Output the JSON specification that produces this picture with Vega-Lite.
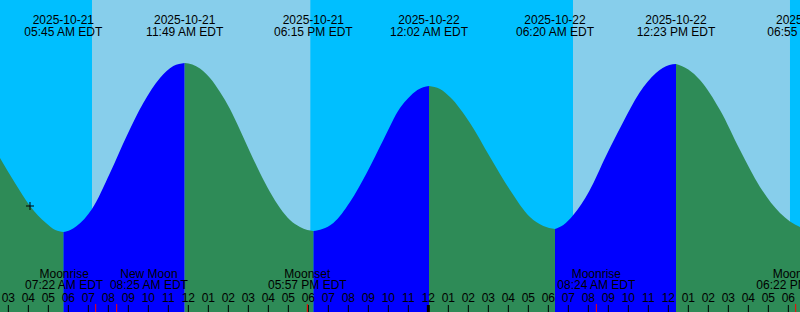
{
  "$schema": "https://vega.github.io/schema/vega-lite/v6.json",
  "width": 800,
  "height": 312,
  "autosize": {"type": "none"},
  "padding": 0,
  "background": "#00BFFF",
  "config": {"view": {"stroke": null}, "text": {"font": "Liberation Sans", "fontSize": 12, "color": "#000000", "baseline": "alphabetic"}},
  "datasets": {
    "sky": [
      {"s": 2.583, "e": 7.183, "kind": "night"},
      {"s": 7.183, "e": 18.1, "kind": "day"},
      {"s": 18.1, "e": 31.233, "kind": "night"},
      {"s": 31.233, "e": 42.083, "kind": "day"},
      {"s": 42.083, "e": 42.6, "kind": "night"}
    ],
    "tide": [
      {"h": 2.583, "v": 0.78, "seg": 1, "phase": "falling"},
      {"h": 3.333, "v": 0.53, "seg": 1, "phase": "falling"},
      {"h": 4.083, "v": 0.30, "seg": 1, "phase": "falling"},
      {"h": 4.883, "v": 0.13, "seg": 1, "phase": "falling"},
      {"h": 5.35, "v": 0.06, "seg": 1, "phase": "falling"},
      {"h": 5.75, "v": 0.04, "seg": 1, "phase": "falling"},
      {"h": 5.75, "v": 0.04, "seg": 2, "phase": "rising"},
      {"h": 6.1, "v": 0.06, "seg": 2, "phase": "rising"},
      {"h": 6.418, "v": 0.10, "seg": 2, "phase": "rising"},
      {"h": 7.183, "v": 0.27, "seg": 2, "phase": "rising"},
      {"h": 8.083, "v": 0.63, "seg": 2, "phase": "rising"},
      {"h": 8.918, "v": 1.00, "seg": 2, "phase": "rising"},
      {"h": 9.748, "v": 1.33, "seg": 2, "phase": "rising"},
      {"h": 10.583, "v": 1.58, "seg": 2, "phase": "rising"},
      {"h": 11.248, "v": 1.70, "seg": 2, "phase": "rising"},
      {"h": 11.817, "v": 1.73, "seg": 2, "phase": "rising"},
      {"h": 11.817, "v": 1.73, "seg": 3, "phase": "falling"},
      {"h": 12.2, "v": 1.715, "seg": 3, "phase": "falling"},
      {"h": 12.583, "v": 1.675, "seg": 3, "phase": "falling"},
      {"h": 13.083, "v": 1.58, "seg": 3, "phase": "falling"},
      {"h": 13.583, "v": 1.44, "seg": 3, "phase": "falling"},
      {"h": 14.083, "v": 1.27, "seg": 3, "phase": "falling"},
      {"h": 14.583, "v": 1.06, "seg": 3, "phase": "falling"},
      {"h": 15.083, "v": 0.84, "seg": 3, "phase": "falling"},
      {"h": 15.583, "v": 0.63, "seg": 3, "phase": "falling"},
      {"h": 16.083, "v": 0.44, "seg": 3, "phase": "falling"},
      {"h": 16.583, "v": 0.28, "seg": 3, "phase": "falling"},
      {"h": 17.083, "v": 0.16, "seg": 3, "phase": "falling"},
      {"h": 17.583, "v": 0.09, "seg": 3, "phase": "falling"},
      {"h": 17.95, "v": 0.06, "seg": 3, "phase": "falling"},
      {"h": 18.25, "v": 0.05, "seg": 3, "phase": "falling"},
      {"h": 18.25, "v": 0.05, "seg": 4, "phase": "rising"},
      {"h": 18.7, "v": 0.07, "seg": 4, "phase": "rising"},
      {"h": 19.25, "v": 0.13, "seg": 4, "phase": "rising"},
      {"h": 20.083, "v": 0.34, "seg": 4, "phase": "rising"},
      {"h": 20.918, "v": 0.63, "seg": 4, "phase": "rising"},
      {"h": 21.748, "v": 0.96, "seg": 4, "phase": "rising"},
      {"h": 22.583, "v": 1.28, "seg": 4, "phase": "rising"},
      {"h": 23.0, "v": 1.38, "seg": 4, "phase": "rising"},
      {"h": 23.45, "v": 1.46, "seg": 4, "phase": "rising"},
      {"h": 24.033, "v": 1.50, "seg": 4, "phase": "rising"},
      {"h": 24.033, "v": 1.50, "seg": 5, "phase": "falling"},
      {"h": 24.583, "v": 1.47, "seg": 5, "phase": "falling"},
      {"h": 25.083, "v": 1.39, "seg": 5, "phase": "falling"},
      {"h": 26.083, "v": 1.13, "seg": 5, "phase": "falling"},
      {"h": 27.083, "v": 0.79, "seg": 5, "phase": "falling"},
      {"h": 28.083, "v": 0.46, "seg": 5, "phase": "falling"},
      {"h": 29.083, "v": 0.19, "seg": 5, "phase": "falling"},
      {"h": 29.75, "v": 0.10, "seg": 5, "phase": "falling"},
      {"h": 30.333, "v": 0.07, "seg": 5, "phase": "falling"},
      {"h": 30.333, "v": 0.07, "seg": 6, "phase": "rising"},
      {"h": 30.75, "v": 0.11, "seg": 6, "phase": "rising"},
      {"h": 31.248, "v": 0.21, "seg": 6, "phase": "rising"},
      {"h": 32.048, "v": 0.45, "seg": 6, "phase": "rising"},
      {"h": 32.883, "v": 0.80, "seg": 6, "phase": "rising"},
      {"h": 33.718, "v": 1.13, "seg": 6, "phase": "rising"},
      {"h": 34.548, "v": 1.43, "seg": 6, "phase": "rising"},
      {"h": 35.383, "v": 1.63, "seg": 6, "phase": "rising"},
      {"h": 36.048, "v": 1.71, "seg": 6, "phase": "rising"},
      {"h": 36.383, "v": 1.72, "seg": 6, "phase": "rising"},
      {"h": 36.383, "v": 1.72, "seg": 7, "phase": "falling"},
      {"h": 37.0, "v": 1.665, "seg": 7, "phase": "falling"},
      {"h": 37.583, "v": 1.56, "seg": 7, "phase": "falling"},
      {"h": 38.583, "v": 1.26, "seg": 7, "phase": "falling"},
      {"h": 39.583, "v": 0.86, "seg": 7, "phase": "falling"},
      {"h": 40.583, "v": 0.49, "seg": 7, "phase": "falling"},
      {"h": 41.583, "v": 0.23, "seg": 7, "phase": "falling"},
      {"h": 42.583, "v": 0.09, "seg": 7, "phase": "falling"},
      {"h": 42.917, "v": 0.07, "seg": 7, "phase": "falling"}
    ],
    "events": [
      {"h": 5.75, "date": "2025-10-21", "time": "05:45 AM EDT"},
      {"h": 11.817, "date": "2025-10-21", "time": "11:49 AM EDT"},
      {"h": 18.25, "date": "2025-10-21", "time": "06:15 PM EDT"},
      {"h": 24.033, "date": "2025-10-22", "time": "12:02 AM EDT"},
      {"h": 30.333, "date": "2025-10-22", "time": "06:20 AM EDT"},
      {"h": 36.383, "date": "2025-10-22", "time": "12:23 PM EDT"},
      {"h": 42.917, "date": "2025-10-22", "time": "06:55 PM EDT"}
    ],
    "hours": [
      {"h": 3, "lab": "03"}, {"h": 4, "lab": "04"}, {"h": 5, "lab": "05"}, {"h": 6, "lab": "06"},
      {"h": 7, "lab": "07"}, {"h": 8, "lab": "08"}, {"h": 9, "lab": "09"}, {"h": 10, "lab": "10"},
      {"h": 11, "lab": "11"}, {"h": 12, "lab": "12"}, {"h": 13, "lab": "01"}, {"h": 14, "lab": "02"},
      {"h": 15, "lab": "03"}, {"h": 16, "lab": "04"}, {"h": 17, "lab": "05"}, {"h": 18, "lab": "06"},
      {"h": 19, "lab": "07"}, {"h": 20, "lab": "08"}, {"h": 21, "lab": "09"}, {"h": 22, "lab": "10"},
      {"h": 23, "lab": "11"}, {"h": 24, "lab": "12"}, {"h": 25, "lab": "01"}, {"h": 26, "lab": "02"},
      {"h": 27, "lab": "03"}, {"h": 28, "lab": "04"}, {"h": 29, "lab": "05"}, {"h": 30, "lab": "06"},
      {"h": 31, "lab": "07"}, {"h": 32, "lab": "08"}, {"h": 33, "lab": "09"}, {"h": 34, "lab": "10"},
      {"h": 35, "lab": "11"}, {"h": 36, "lab": "12"}, {"h": 37, "lab": "01"}, {"h": 38, "lab": "02"},
      {"h": 39, "lab": "03"}, {"h": 40, "lab": "04"}, {"h": 41, "lab": "05"}, {"h": 42, "lab": "06"}
    ],
    "moon": [
      {"h": 7.367, "at": 5.79, "name": "Moonrise", "time": "07:22 AM EDT"},
      {"h": 8.417, "at": 10.03, "name": "New Moon", "time": "08:25 AM EDT"},
      {"h": 17.95, "at": 17.95, "name": "Moonset", "time": "05:57 PM EDT"},
      {"h": 32.4, "at": 32.4, "name": "Moonrise", "time": "08:24 AM EDT"},
      {"h": 42.367, "at": 42.367, "name": "Moonset", "time": "06:22 PM EDT"}
    ],
    "now": [{"h": 4.083, "v": 0.30}]
  },
  "layer": [
    {
      "data": {"name": "sky"},
      "transform": [{"filter": "datum.kind == 'night'"}],
      "mark": {"type": "rect", "color": "#00BFFF"},
      "encoding": {
        "x": {"field": "s", "type": "quantitative", "scale": {"domain": [2.5833, 42.5833], "nice": false, "zero": false}, "axis": null},
        "x2": {"field": "e"},
        "y": {"datum": 2.36, "type": "quantitative", "scale": {"domain": [-0.76, 2.36], "nice": false, "zero": false}, "axis": null},
        "y2": {"datum": -0.76}
      }
    },
    {
      "data": {"name": "sky"},
      "transform": [{"filter": "datum.kind == 'day'"}],
      "mark": {"type": "rect", "color": "#87CEEB"},
      "encoding": {
        "x": {"field": "s", "type": "quantitative"},
        "x2": {"field": "e"},
        "y": {"datum": 2.36},
        "y2": {"datum": -0.76}
      }
    },
    {
      "data": {"name": "tide"},
      "transform": [{"filter": "datum.phase == 'rising'"}],
      "mark": {"type": "area", "color": "#0000FF", "interpolate": "monotone", "clip": true},
      "encoding": {
        "x": {"field": "h", "type": "quantitative"},
        "y": {"field": "v", "type": "quantitative"},
        "y2": {"datum": -0.76},
        "detail": {"field": "seg"}
      }
    },
    {
      "data": {"name": "tide"},
      "transform": [{"filter": "datum.phase == 'falling'"}],
      "mark": {"type": "area", "color": "#2E8B57", "interpolate": "monotone", "clip": true},
      "encoding": {
        "x": {"field": "h", "type": "quantitative"},
        "y": {"field": "v", "type": "quantitative"},
        "y2": {"datum": -0.76},
        "detail": {"field": "seg"}
      }
    },
    {
      "mark": {"type": "rule", "color": "#000000", "strokeWidth": 1},
      "encoding": {
        "x": {"datum": 3.683},
        "x2": {"datum": 42.6},
        "y": {"datum": -0.005}
      }
    },
    {
      "mark": {"type": "text", "text": "0 ft", "align": "left"},
      "encoding": {
        "x": {"datum": 2.7},
        "y": {"datum": -0.045}
      }
    },
    {
      "data": {"name": "now"},
      "mark": {"type": "point", "shape": "M-1,0L1,0M0,-1L0,1", "size": 64, "filled": false, "color": "#000000", "strokeWidth": 1, "opacity": 1},
      "encoding": {
        "x": {"field": "h", "type": "quantitative"},
        "y": {"field": "v", "type": "quantitative"}
      }
    },
    {
      "mark": {"type": "text", "text": "Oyster Creek, Barnegat Bay, New Jersey", "align": "center"},
      "encoding": {
        "x": {"datum": 22.5833},
        "y": {"datum": 2.243}
      }
    },
    {
      "data": {"name": "events"},
      "mark": {"type": "text", "align": "center"},
      "encoding": {
        "x": {"field": "h", "type": "quantitative"},
        "y": {"datum": 2.12},
        "text": {"field": "date"}
      }
    },
    {
      "data": {"name": "events"},
      "mark": {"type": "text", "align": "center"},
      "encoding": {
        "x": {"field": "h", "type": "quantitative"},
        "y": {"datum": 2.002},
        "text": {"field": "time"}
      }
    },
    {
      "data": {"name": "hours"},
      "transform": [{"filter": "datum.h != 24"}],
      "mark": {"type": "rule", "color": "#000000", "strokeWidth": 1},
      "encoding": {
        "x": {"field": "h", "type": "quantitative"},
        "y": {"datum": -0.69},
        "y2": {"datum": -0.76}
      }
    },
    {
      "data": {"name": "hours"},
      "transform": [{"filter": "datum.h == 24"}],
      "mark": {"type": "rule", "color": "#000000", "strokeWidth": 3},
      "encoding": {
        "x": {"field": "h", "type": "quantitative"},
        "y": {"datum": -0.69},
        "y2": {"datum": -0.76}
      }
    },
    {
      "data": {"name": "hours"},
      "mark": {"type": "text", "align": "center"},
      "encoding": {
        "x": {"field": "h", "type": "quantitative"},
        "y": {"datum": -0.656},
        "text": {"field": "lab"}
      }
    },
    {
      "data": {"name": "moon"},
      "mark": {"type": "rule", "color": "#FF0000", "strokeWidth": 1},
      "encoding": {
        "x": {"field": "h", "type": "quantitative"},
        "y": {"datum": -0.68},
        "y2": {"datum": -0.76}
      }
    },
    {
      "data": {"name": "moon"},
      "mark": {"type": "text", "align": "center"},
      "encoding": {
        "x": {"field": "at", "type": "quantitative"},
        "y": {"datum": -0.422},
        "text": {"field": "name"}
      }
    },
    {
      "data": {"name": "moon"},
      "mark": {"type": "text", "align": "center"},
      "encoding": {
        "x": {"field": "at", "type": "quantitative"},
        "y": {"datum": -0.534},
        "text": {"field": "time"}
      }
    }
  ]
}
